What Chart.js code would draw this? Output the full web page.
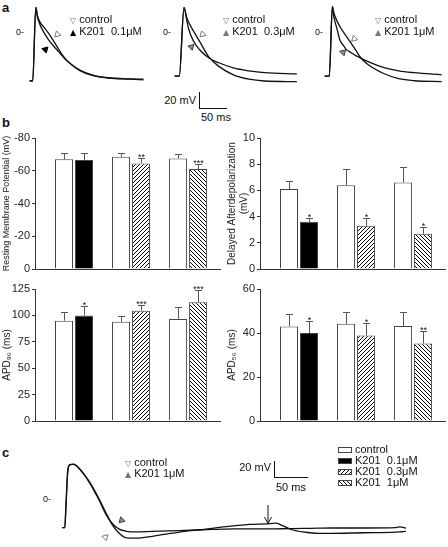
<!DOCTYPE html>
<html><head><meta charset="utf-8">
<script src="https://cdn.jsdelivr.net/npm/chart.js@4.4.0/dist/chart.umd.min.js"></script>
<style>
html,body{margin:0;padding:0;background:#fff}
body{width:448px;height:547px;overflow:hidden;position:relative;font-family:"Liberation Sans",Arial,sans-serif;color:#111}
.abs{position:absolute}
canvas.abs{display:block}
.pl{position:absolute;font-weight:bold;font-size:13px;line-height:1}
.t{position:absolute;font-size:11px;line-height:11px;white-space:nowrap}
.z{position:absolute;font-size:9px;line-height:9px;white-space:nowrap}
.sym{font-family:"DejaVu Sans",sans-serif;font-size:8px;margin-right:3px}
.bar{position:absolute;background:#111}
</style></head><body>

<!-- ===== panel labels ===== -->
<div class="pl" style="left:2px;top:1px">a</div>
<div class="pl" style="left:2px;top:116px">b</div>
<div class="pl" style="left:2px;top:446px">c</div>

<!-- trace canvases -->
<canvas id="a1" class="abs"></canvas>
<canvas id="a2" class="abs"></canvas>
<canvas id="a3" class="abs"></canvas>
<canvas id="cTrace" class="abs"></canvas>

<!-- bar canvases -->
<canvas id="bRmp" class="abs"></canvas>
<canvas id="bDad" class="abs"></canvas>
<canvas id="bApd90" class="abs"></canvas>
<canvas id="bApd50" class="abs"></canvas>

<!-- panel a labels -->
<div class="z" style="left:16px;top:28px">0-</div>
<div class="z" style="left:163px;top:28px">0-</div>
<div class="z" style="left:315px;top:28px">0-</div>
<div class="t" style="left:70px;top:14px"><span class="sym" style="color:#777">▽</span>control</div>
<div class="t" style="left:70px;top:26px"><span class="sym" style="color:#000">▲</span>K201&nbsp;&nbsp;0.1μM</div>
<div class="t" style="left:223px;top:14px"><span class="sym" style="color:#777">▽</span>control</div>
<div class="t" style="left:223px;top:26px"><span class="sym" style="color:#777">▲</span>K201&nbsp;&nbsp;0.3μM</div>
<div class="t" style="left:375px;top:14px"><span class="sym" style="color:#777">▽</span>control</div>
<div class="t" style="left:375px;top:26px"><span class="sym" style="color:#777">▲</span>K201 1μM</div>
<div class="t" id="aBarMv" style="top:95px;text-align:right;width:40px">20 mV</div>
<div class="t" id="aBarMs" style="top:112px">50 ms</div>
<div class="bar" id="aBarV"></div>
<div class="bar" id="aBarH"></div>

<!-- panel c labels -->
<div class="z" style="left:43px;top:495px">0-</div>
<div class="t" style="left:125px;top:457px"><span class="sym" style="color:#777">▽</span>control</div>
<div class="t" style="left:125px;top:468px"><span class="sym" style="color:#777">▲</span>K201 1μM</div>
<div class="t" id="cBarMv" style="top:462px;text-align:right;width:40px">20 mV</div>
<div class="t" id="cBarMs" style="top:482px">50 ms</div>
<div class="bar" id="cBarV"></div>
<div class="bar" id="cBarH"></div>
<svg class="abs" style="left:262px;top:504px" width="12" height="22">
  <line x1="6" y1="1" x2="6" y2="19" stroke="#111" stroke-width="1"/>
  <polyline points="2.5,13 6,19.5 9.5,13" fill="none" stroke="#111" stroke-width="1"/>
</svg>

<!-- bar legend (panel c right) -->
<canvas id="sw0" class="abs" width="14" height="6" style="left:338px;top:447px"></canvas>
<div class="t" style="left:355px;top:444px">control</div>
<canvas id="sw1" class="abs" width="14" height="6" style="left:338px;top:458px"></canvas>
<div class="t" style="left:355px;top:455px">K201&nbsp;&nbsp;0.1μM</div>
<canvas id="sw2" class="abs" width="14" height="6" style="left:338px;top:469px"></canvas>
<div class="t" style="left:355px;top:466px">K201&nbsp;&nbsp;0.3μM</div>
<canvas id="sw3" class="abs" width="14" height="6" style="left:338px;top:480px"></canvas>
<div class="t" style="left:355px;top:477px">K201&nbsp;&nbsp;1μM</div>

<script>
// ================= DATA =================
// panel b: three concentration groups (each: control vs K201)
const groupIndex = [1, 2, 3];
const groupNames = ['K201 0.1μM', 'K201 0.3μM', 'K201 1μM'];

// Resting membrane potential (mV)
const rmpControl    = [-67, -68.5, -67.5];
const rmpControlErr = [4, 2.5, 3];
const rmpK201       = [-66.5, -64.5, -61];
const rmpK201Err    = [4.5, 3, 3];
const rmpStars      = ['', '**', '***'];
const rmpTicks      = [-80, -60, -40, -20, 0];

// Delayed afterdepolarization (mV)
const dadControl    = [6.1, 6.4, 6.6];
const dadControlErr = [0.6, 1.2, 1.2];
const dadK201       = [3.6, 3.3, 2.7];
const dadK201Err    = [0.3, 0.6, 0.5];
const dadStars      = ['*', '*', '*'];
const dadTicks      = [0, 2, 4, 6, 8, 10];

// APD90 (ms)
const apd90Control    = [95, 94, 96.5];
const apd90ControlErr = [8.5, 5, 11];
const apd90K201       = [100, 104.5, 112.5];
const apd90K201Err    = [9, 5, 12];
const apd90Stars      = ['*', '***', '***'];
const apd90Ticks      = [0, 25, 50, 75, 100, 125];

// APD50 (ms)
const apd50Control    = [43, 44.2, 43.2];
const apd50ControlErr = [5.7, 5.3, 6.3];
const apd50K201       = [40, 38.9, 35.2];
const apd50K201Err    = [5.6, 5.6, 5.6];
const apd50Stars      = ['*', '*', '**'];
const apd50Ticks      = [0, 20, 40, 60];

// panel a: action potential traces (time ms, membrane potential mV)
const a1TimeMs    = [0, 6, 12, 15, 20, 27, 36, 45, 56, 68, 80, 98, 122, 152, 194, 220];
const a1ControlMv = [-67, -67, 39.5, 27.9, 18.1, 11.3, 2.6, -7.6, -20.9, -33.9, -42.7, -52.3, -59.3, -62.7, -64.4, -65.3];
const a1K201Mv    = [-66.5, -66.5, 39.5, 25.6, 14.4, 4.0, -6.7, -15.3, -24.5, -34.8, -42.7, -51.4, -58.4, -62.3, -64.0, -64.4];

const a2TimeMs    = [0, 9, 18, 23, 27, 36, 48, 66, 85, 113, 143, 173, 235];
const a2ControlMv = [-60, -60, 39.5, 25.1, 17.9, 5.4, -9.6, -32.6, -45.8, -58, -64.4, -67, -67.9];
const a2K201Mv    = [-60, -60, 39.5, 22.2, 8.2, -9.0, -21.8, -33.7, -40.6, -48.1, -52.4, -55, -56.7];

const a3TimeMs    = [0, 9, 15, 18, 24, 30, 36, 42, 48, 60, 69, 83, 113, 143, 173, 226];
const a3ControlMv = [-60, -60, 40.8, 31, 19.6, 11.1, 4.0, -2.5, -9.0, -22.1, -32.6, -42.8, -55.8, -63.6, -66.6, -67.9];
const a3K201Mv    = [-60, -60, 40.8, 25.5, 8.0, -8.8, -15.3, -21.6, -24.5, -30.3, -33.7, -38.6, -47.3, -52.4, -55, -58];

// arrowhead markers [time ms, mV]
const a1Markers = {control: [53.6, 0.4], k201: [30.4, -21.5]};
const a2Markers = {control: [53.6, 0.4], k201: [32.1, -17.7]};
const a3Markers = {control: [57.1, -6], k201: [35.7, -25.4]};

// panel c: DAD trace
const cTimeMs    = [1, 5, 6.5, 9.5, 13, 18, 28, 42, 57, 67, 77, 87, 98, 113, 137, 162, 186, 211, 235, 260, 284, 309, 323, 333, 348, 368, 387, 407, 456, 505, 511, 516, 520];
const cControlMv = [-39.7, -39.7, -12.8, 40, 50.5, 51, 43.3, 26.2, 1.0, -18.3, -36.1, -47.8, -54.3, -54.7, -52.1, -48.3, -44.9, -42.7, -39.7, -37.2, -35, -34.2, -33.3, -36.3, -42.7, -46.2, -47.9, -47.9, -47, -46.2, -45.7, -45.3, -44.9];
const cK201Mv    = [-39.7, -39.7, -12.8, 44, 50.7, 51.2, 44.2, 25.2, -0.8, -20.6, -34.1, -41.9, -44.9, -45.7, -44.9, -44.4, -43.5, -42.7, -42.1, -41.5, -41.5, -41.5, -41.4, -41.3, -41.1, -40.8, -40.5, -40.2, -40.2, -39.7, -38.5, -39.3, -40.6];
const cMarkers   = {control: [66.2, -53.4], k201: [90.7, -29.1]};

// scale bars
const scaleBarMv = 20;
const scaleBarMs = 50;

// ================= LAYOUT / STYLE =================
Chart.defaults.font.family = '"Liberation Sans", Arial, sans-serif';
Chart.defaults.color = '#222';

const A_PX_MS = 0.56, A_PX_MV = 0.776;
const C_PX_MS = 0.68, C_PX_MV = 0.78;

function place(cv, left, top, w, h) {
  cv.width = w; cv.height = h;
  cv.style.left = left + 'px'; cv.style.top = top + 'px';
  cv.style.width = w + 'px'; cv.style.height = h + 'px';
}

function hatch(dir) {
  const c = document.createElement('canvas'); c.width = 4; c.height = 4;
  const g = c.getContext('2d');
  g.fillStyle = '#fff'; g.fillRect(0, 0, 4, 4);
  g.strokeStyle = '#000'; g.lineWidth = 1;
  g.beginPath();
  if (dir > 0) {
    g.moveTo(0, 4); g.lineTo(4, 0); g.moveTo(-1, 1); g.lineTo(1, -1); g.moveTo(3, 5); g.lineTo(5, 3);
  } else {
    g.moveTo(0, 0); g.lineTo(4, 4); g.moveTo(-1, 3); g.lineTo(1, 5); g.moveTo(3, -1); g.lineTo(5, 1);
  }
  g.stroke();
  return g.createPattern(c, 'repeat');
}
const hatchUp = hatch(1), hatchDown = hatch(-1);
const drugFills = ['#000', hatchUp, hatchDown];

function markerDs(pt, rot, fill, stroke) {
  return {type: 'scatter', data: [{x: pt[0], y: pt[1]}], pointStyle: 'triangle', rotation: rot,
          pointRadius: 3.6, pointBackgroundColor: fill, pointBorderColor: stroke, pointBorderWidth: 1,
          showLine: false, clip: false};
}
function lineDs(times, vals) {
  return {data: times.map((t, i) => ({x: t, y: vals[i]})), borderColor: '#111', borderWidth: 1.3,
          pointRadius: 0, fill: false, cubicInterpolationMode: 'monotone', clip: false};
}

function traceChart(id, left, top, w, h, x0, y0, pxMs, pxMv, datasets) {
  const cv = document.getElementById(id);
  place(cv, left, top, w, h);
  new Chart(cv, {
    type: 'line',
    data: {datasets},
    options: {
      responsive: false, animation: false, events: [],
      layout: {padding: 0},
      plugins: {legend: {display: false}, tooltip: {enabled: false}},
      scales: {
        x: {type: 'linear', display: false, min: (left - x0) / pxMs, max: (left + w - x0) / pxMs},
        y: {type: 'linear', display: false, min: (y0 - top - h) / pxMv, max: (y0 - top) / pxMv}
      }
    }
  });
}

traceChart('a1', 20, 0, 132, 92, 25, 33.3, A_PX_MS, A_PX_MV, [
  lineDs(a1TimeMs, a1ControlMv), lineDs(a1TimeMs, a1K201Mv),
  markerDs(a1Markers.control, 225, '#fff', '#777'), markerDs(a1Markers.k201, 45, '#000', '#000')]);
traceChart('a2', 165, 0, 140, 92, 170, 33.3, A_PX_MS, A_PX_MV, [
  lineDs(a2TimeMs, a2ControlMv), lineDs(a2TimeMs, a2K201Mv),
  markerDs(a2Markers.control, 225, '#fff', '#777'), markerDs(a2Markers.k201, 45, '#888', '#444')]);
traceChart('a3', 315, 0, 133, 92, 320, 33.3, A_PX_MS, A_PX_MV, [
  lineDs(a3TimeMs, a3ControlMv), lineDs(a3TimeMs, a3K201Mv),
  markerDs(a3Markers.control, 225, '#fff', '#777'), markerDs(a3Markers.k201, 45, '#888', '#444')]);
traceChart('cTrace', 50, 452, 380, 95, 56.7, 500, C_PX_MS, C_PX_MV, [
  lineDs(cTimeMs, cControlMv), lineDs(cTimeMs, cK201Mv),
  markerDs(cMarkers.control, 45, '#fff', '#777'), markerDs(cMarkers.k201, 225, '#888', '#444')]);

// scale bars (sized from the same px/ms and px/mV)
function scaleBar(prefix, x, yBottom, pxMs, pxMv) {
  const hV = scaleBarMv * pxMv, wH = scaleBarMs * pxMs;
  const v = document.getElementById(prefix + 'BarV'), hz = document.getElementById(prefix + 'BarH');
  Object.assign(v.style, {left: x + 'px', top: (yBottom - hV) + 'px', width: '1px', height: hV + 'px'});
  Object.assign(hz.style, {left: x + 'px', top: yBottom + 'px', width: wH + 'px', height: '1px'});
  document.getElementById(prefix + 'BarMv').style.left = (x - 43) + 'px';
  document.getElementById(prefix + 'BarMs').style.left = (x + 2) + 'px';
}
scaleBar('a', 199, 108, A_PX_MS, A_PX_MV);
scaleBar('c', 274, 477, C_PX_MS, C_PX_MV);

// error bars + significance stars
const errorBarPlugin = {
  id: 'errbars',
  afterDatasetsDraw(chart) {
    const ctx = chart.ctx, ys = chart.scales.y;
    chart.data.datasets.forEach((ds, di) => {
      const meta = chart.getDatasetMeta(di);
      meta.data.forEach((el, i) => {
        const v = ds.data[i].y, e = ds.errors[i];
        const end = Math.round(ys.getPixelForValue(v + Math.sign(v) * e)) + 0.5;
        const cx = Math.round(el.x) + 0.5;
        ctx.save();
        ctx.strokeStyle = '#555'; ctx.lineWidth = 1;
        ctx.beginPath();
        ctx.moveTo(cx, el.y); ctx.lineTo(cx, end);
        ctx.moveTo(cx - 3.5, end); ctx.lineTo(cx + 3.5, end);
        ctx.stroke();
        if (ds.stars && ds.stars[i]) {
          ctx.fillStyle = '#111'; ctx.font = '9px "Liberation Sans", Arial, sans-serif';
          ctx.textAlign = 'center'; ctx.textBaseline = 'alphabetic';
          ctx.fillText(ds.stars[i], cx, end + 1);
        }
        ctx.restore();
      });
    });
  }
};

// plot area: axis at x = left+35, 185 px long; y from plotTop to plotTop+plotH
function barChart(id, left, plotTop, plotH, ctrl, ctrlErr, drug, drugErr, stars, ticks, reverse, title, titleSize) {
  const cv = document.getElementById(id);
  const padT = 14, padB = 12, w = 223;
  place(cv, left, plotTop - padT, w, plotH + padT + padB);
  const lo = Math.min(...ticks), hi = Math.max(...ticks);
  new Chart(cv, {
    type: 'bar',
    data: {datasets: [
      {label: 'control', data: groupIndex.map((g, i) => ({x: g, y: ctrl[i]})), errors: ctrlErr,
       backgroundColor: '#fff', borderColor: '#444', borderWidth: 1},
      {label: 'K201', data: groupIndex.map((g, i) => ({x: g, y: drug[i]})), errors: drugErr, stars,
       backgroundColor: drugFills, borderColor: '#444', borderWidth: 1}
    ]},
    options: {
      responsive: false, animation: false, events: [],
      layout: {padding: {top: padT, bottom: padB, left: 0, right: w - 35 - 185}},
      datasets: {bar: {categoryPercentage: 0.7018, barPercentage: 0.9}},
      plugins: {legend: {display: false}, tooltip: {enabled: false}},
      scales: {
        x: {type: 'linear', min: 0.316, max: 3.56, offset: false,
            grid: {display: false}, ticks: {display: false},
            border: {display: true, color: '#333', width: 1},
            afterBuildTicks: s => { s.ticks = groupIndex.map(v => ({value: v})); },
            afterFit: s => { s.height = 0; }},
        y: {type: 'linear', min: lo, max: hi, reverse,
            afterBuildTicks: s => { s.ticks = ticks.map(v => ({value: v})); },
            afterFit: s => { s.width = 35; },
            grid: {display: true, drawOnChartArea: false, drawTicks: true, tickLength: 3, color: '#333'},
            border: {display: true, color: '#333', width: 1},
            ticks: {font: {size: 11}, color: '#222', padding: 2},
            title: {display: true, text: title, font: {size: titleSize}, color: '#222', padding: {top: 1, bottom: 0}}}
      }
    },
    plugins: [errorBarPlugin]
  });
}

barChart('bRmp', 0, 138, 131, rmpControl, rmpControlErr, rmpK201, rmpK201Err, rmpStars, rmpTicks, true,
         'Resting Membrane Potential (mV)', 9);
barChart('bDad', 225, 138, 131, dadControl, dadControlErr, dadK201, dadK201Err, dadStars, dadTicks, false,
         ['Delayed Afterdepolarization', '(mV)'], 10);
barChart('bApd90', 0, 289, 132, apd90Control, apd90ControlErr, apd90K201, apd90K201Err, apd90Stars, apd90Ticks, false,
         'APD₉₀ (ms)', 10);
barChart('bApd50', 225, 289, 132, apd50Control, apd50ControlErr, apd50K201, apd50K201Err, apd50Stars, apd50Ticks, false,
         'APD₅₀ (ms)', 10);

// legend swatches
const swFills = ['#fff', '#000', hatchUp, hatchDown];
swFills.forEach((f, i) => {
  const g = document.getElementById('sw' + i).getContext('2d');
  g.fillStyle = f; g.fillRect(0, 0, 14, 6);
  g.strokeStyle = '#444'; g.lineWidth = 1; g.strokeRect(0.5, 0.5, 13, 5);
});
</script>
</body></html>
